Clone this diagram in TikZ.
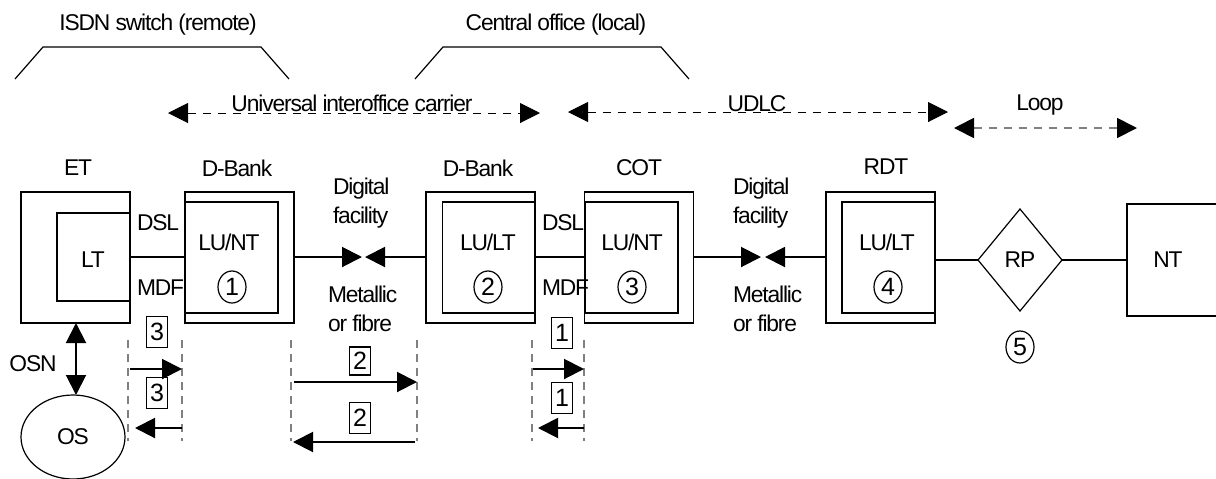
\documentclass[tikz,border=0pt]{standalone}
\usepackage{fontspec}
\setmainfont[LetterSpace=-5]{Liberation Sans}
\usetikzlibrary{arrows.meta,shapes.geometric}
\begin{document}
\begin{tikzpicture}[x=0.5pt,y=-0.5pt,
  font=\fontsize{11.4}{14.5}\selectfont,
  every node/.style={inner sep=0pt,outer sep=0pt},
  outerbox/.style={draw,line width=0.6pt,minimum width=54.5pt,minimum height=65.5pt},
  innerbox/.style={draw,line width=0.6pt,minimum width=46.5pt,minimum height=55.5pt},
  conn/.style={line width=1pt},
  bigtip/.style={-{Triangle[length=10pt,width=10pt]}},
  bothtip/.style={{Triangle[length=10pt,width=10pt,color=black]}-{Triangle[length=10pt,width=10pt,color=black]}},
  topdash/.style={line width=0.5pt,dash pattern=on 4pt off 3.5pt},
  vdash/.style={draw=gray,line width=0.6pt,dash pattern=on 4pt off 3pt},
  numbox/.style={draw,line width=0.6pt,minimum width=10.5pt,minimum height=15.5pt,font=\fontsize{12.5}{14}\selectfont},
  circnum/.style={draw,ellipse,line width=0.6pt,minimum width=14pt,minimum height=16pt,font=\fontsize{12.5}{14}\selectfont},
  twoline/.style={align=left,anchor=west}
]
\useasboundingbox (0,0) rectangle (1216,478);

% top braces
\node (isdn) at (158,25) {ISDN switch (remote)};
\draw[line width=0.6pt] (15,79) -- (43,47) -- (261,47) -- (289,79);
\node (co) at (556,25) {Central office (local)};
\draw[line width=0.6pt] (415,79) -- (443,47) -- (661,47) -- (689,79);

% spans
\coordinate (uic1) at (168,113); \coordinate (uic2) at (540,113);
\draw[topdash,bothtip] (uic1) -- (uic2);
\node[anchor=base] (uictxt) at (352,111) {Universal interoffice carrier};
\coordinate (ud1) at (568,112); \coordinate (ud2) at (948,112);
\draw[topdash,bothtip] (ud1) -- (ud2);
\node[anchor=base] (udtxt) at (757,111) {UDLC};
\coordinate (lp1) at (954,128); \coordinate (lp2) at (1137,128);
\draw[draw=gray,line width=0.9pt,dash pattern=on 4pt off 3.5pt,bothtip] (lp1) -- (lp2);
\node[anchor=base] (lptxt) at (1040,110) {Loop};

% box labels
\node (etl) at (78,168) {ET};
\node (db1l) at (237,168) {D-Bank};
\node (db2l) at (478,168) {D-Bank};
\node (cotl) at (639,168) {COT};
\node (rdtl) at (886,167) {RDT};

% ET
\node[outerbox] (et) at (75.5,257.5) {};
\node[draw,line width=0.6pt,minimum width=36.5pt,minimum height=44pt] (lt) at (93.5,257) {};
\node (lttxt) at (93,260) {LT};
\node[anchor=west] (dsl1) at (137,223) {DSL};
\node[anchor=west] (mdf1) at (137,288) {MDF};

% D-Bank 1
\node[outerbox] (db1o) at (239.5,257.5) {};
\node[innerbox] (db1i) at (231.5,257.5) {};
\node (db1t) at (229,242) {LU/NT};
\node[circnum] (c1) at (232,287) {1};

% D-Bank 2
\node[outerbox] (db2o) at (480.5,257.5) {};
\node[innerbox] (db2i) at (489,257.5) {};
\node (db2t) at (488,242) {LU/LT};
\node[circnum] (c2) at (488,287) {2};
\node[anchor=west] (dsl2) at (542,223) {DSL};
\node[anchor=west] (mdf2) at (542,288) {MDF};

% COT
\node[outerbox] (coto) at (639,257.5) {};
\node[innerbox] (coti) at (631.5,257.5) {};
\node (cott) at (632,242) {LU/NT};
\node[circnum] (c3) at (632,287) {3};

% RDT
\node[outerbox] (rdto) at (880.5,257.5) {};
\node[innerbox] (rdti) at (888.5,257.5) {};
\node (rdtt) at (887,242) {LU/LT};
\node[circnum] (c4) at (888,287) {4};

% RP and NT
\node[draw,diamond,line width=0.6pt,minimum width=42pt,minimum height=51pt] (rp) at (1020,260) {};
\node (rptxt) at (1020,260) {RP};
\node[circnum] (c5) at (1020,347) {5};
\node[draw,line width=0.6pt,minimum width=61.5pt,minimum height=56pt] (nt) at (1188.5,260) {};
\node (nttxt) at (1168,260) {NT};

% digital facility labels
\node[twoline] (df1) at (333,203.5) {Digital\\facility};
\node[twoline] (mf1) at (328,309) {Metallic\\or fibre};
\node[twoline] (df2) at (733,203.5) {Digital\\facility};
\node[twoline] (mf2) at (733,309) {Metallic\\or fibre};

% connectors
\draw[conn] (lt.east |- 0,257) -- (db1i.west |- 0,257);
\coordinate (m1a) at (362,257); \coordinate (m1b) at (365,257);
\draw[conn,bigtip] (db1o.east |- 0,257) -- (m1a);
\draw[conn,bigtip] (db2o.west |- 0,257) -- (m1b);
\draw[conn] (db2o.east |- 0,257) -- (coti.west |- 0,257);
\coordinate (m2a) at (761,257); \coordinate (m2b) at (765,257);
\draw[conn,bigtip] (coto.east |- 0,257) -- (m2a);
\draw[conn,bigtip] (rdto.west |- 0,257) -- (m2b);
\draw[conn] (rdto.east |- rp.west) -- (rp.west);
\draw[conn] (rp.east) -- (nt.west);

% OS
\node[draw,ellipse,line width=0.6pt,minimum width=52pt,minimum height=42pt] (os) at (73,437) {};
\node (ostxt) at (73,437) {OS};
\draw[conn,bothtip] (76,323) -- (76,395);
\node (osn) at (33,364) {OSN};

% test access groups
\draw[vdash] (128,340) -- (128,441);
\draw[vdash] (182,340) -- (182,441);
\node[numbox] (b3a) at (157,332) {3};
\node[numbox] (b3b) at (157,393) {3};
\coordinate (a3r1) at (130,369); \coordinate (a3r2) at (182,369);
\draw[conn,bigtip] (a3r1) -- (a3r2);
\coordinate (a3l1) at (182,428); \coordinate (a3l2) at (135,428);
\draw[conn,bigtip] (a3l1) -- (a3l2);

\draw[vdash] (291,340) -- (291,441);
\draw[vdash] (417,340) -- (417,441);
\node[numbox,minimum height=14pt] (b2a) at (360,361) {2};
\node[numbox] (b2b) at (360,418) {2};
\coordinate (a2r1) at (294,382); \coordinate (a2r2) at (417,382);
\draw[conn,bigtip] (a2r1) -- (a2r2);
\coordinate (a2l1) at (415,442); \coordinate (a2l2) at (293,442);
\draw[conn,bigtip] (a2l1) -- (a2l2);

\draw[vdash] (532,340) -- (532,441);
\draw[vdash] (584,340) -- (584,441);
\node[numbox] (b1a) at (562,333) {1};
\node[numbox] (b1b) at (562,398) {1};
\coordinate (a1r1) at (533,369); \coordinate (a1r2) at (584,369);
\draw[conn,bigtip] (a1r1) -- (a1r2);
\coordinate (a1l1) at (584,428); \coordinate (a1l2) at (538,428);
\draw[conn,bigtip] (a1l1) -- (a1l2);
\end{tikzpicture}
\end{document}
